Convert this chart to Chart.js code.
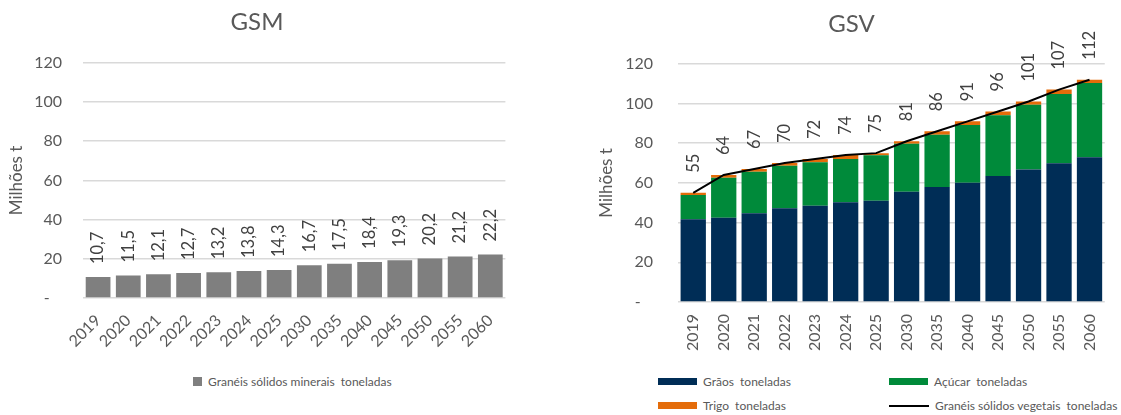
<!DOCTYPE html>
<html lang="pt">
<head>
    <meta charset="UTF-8">
    <title>GSM / GSV</title>
    <script src="https://cdn.jsdelivr.net/npm/chart.js"></script>
    <style>
        body { margin: 0; background: #fff; font-family: Lato, sans-serif; }
        .wrap { position: relative; width: 1121px; height: 415px; }
        #gsmBox { position: absolute; left: 0; top: 0; width: 517px; height: 360px; }
        #gsvBox { position: absolute; left: 590px; top: 0; width: 531px; height: 360px; }
        .legend-item { position: absolute; font-size: 12px; color: #595959; white-space: pre; line-height: 14px; }
        .legend-item i { position: absolute; display: block; }
    </style>
</head>
<body>
<div class="wrap" id="wrap">
    <div id="gsmBox"><canvas id="gsmChart"></canvas></div>
    <div id="gsvBox"><canvas id="gsvChart"></canvas></div>
</div>

<script>
    // categories
    const years = ['2019', '2020', '2021', '2022', '2023', '2024', '2025', '2030', '2035', '2040', '2045', '2050', '2055', '2060'];
    const yTicks = [0, 20, 40, 60, 80, 100, 120];

    // GSM - graneis solidos minerais (milhoes t)
    const minerais = [10.7, 11.5, 12.1, 12.7, 13.2, 13.8, 14.3, 16.7, 17.5, 18.4, 19.3, 20.2, 21.2, 22.2];

    // GSV - graneis solidos vegetais (milhoes t)
    const graos  = [41.7, 42.5, 44.7, 47.2, 48.5, 50.2, 51.0, 55.6, 57.9, 60.1, 63.5, 66.7, 69.9, 72.9];
    const acucar = [12.2, 20.1, 20.9, 21.5, 21.9, 21.8, 22.9, 24.1, 26.4, 29.1, 30.6, 32.7, 34.9, 37.4];
    const trigo  = [1.1, 1.4, 1.4, 1.3, 1.6, 2.0, 1.1, 1.3, 1.7, 1.8, 1.9, 1.6, 2.2, 1.7];
    const vegetais = [55, 64, 67, 70, 72, 74, 75, 81, 86, 91, 96, 101, 107, 112];

    const FONT = 'Lato';
    const TXT = '#595959';
    const GRID = '#d9d9d9';

    // rotated value labels above bars / line points
    const valueLabels = {
        id: 'valueLabels',
        afterDatasetsDraw(chart, args, opts) {
            const ctx = chart.ctx;
            const meta = chart.getDatasetMeta(opts.dataset);
            const values = chart.data.datasets[opts.dataset].data;
            ctx.save();
            ctx.font = opts.size + 'px ' + FONT;
            ctx.fillStyle = '#404040';
            ctx.textAlign = 'left';
            ctx.textBaseline = 'middle';
            meta.data.forEach((el, i) => {
                ctx.save();
                ctx.translate(el.x, el.y - opts.gap);
                ctx.rotate(-Math.PI / 2);
                ctx.fillText(opts.format(values[i]), 0, 0);
                ctx.restore();
            });
            ctx.restore();
        }
    };

    function yScale(tickPad, width) {
        return {
            min: 0, max: 120,
            afterBuildTicks: s => { s.ticks = yTicks.map(v => ({ value: v })); },
            afterFit: s => { s.width = width; },
            grid: { color: GRID, lineWidth: 1.5, drawTicks: false },
            border: { display: false },
            ticks: {
                padding: tickPad, color: TXT, font: { family: FONT, size: 16 },
                callback: v => v === 0 ? '-   ' : v
            },
            title: { display: true, text: 'Milhões t', color: TXT, font: { family: FONT, size: 17 }, padding: { top: 6, bottom: 0 } }
        };
    }

    function xScale(rot, pad, height) {
        return {
            offset: true,
            afterFit: s => { s.height = height; },
            grid: { display: false, drawTicks: false },
            border: { display: false },
            ticks: { autoSkip: false, minRotation: rot, maxRotation: rot, padding: pad, color: TXT, font: { family: FONT, size: 16 } }
        };
    }

    // GSM chart
    new Chart(document.getElementById('gsmChart'), {
        type: 'bar',
        data: {
            labels: years,
            datasets: [{
                label: 'Granéis sólidos minerais  toneladas',
                data: minerais,
                backgroundColor: '#7f7f7f',
                barPercentage: 0.82,
                categoryPercentage: 1
            }]
        },
        options: {
            responsive: true,
            maintainAspectRatio: false,
            animation: false,
            layout: { padding: { left: 0, right: 3, top: 0, bottom: 0 } },
            scales: { x: xScale(45, 13, 62), y: yScale(21, 83) },
            plugins: {
                legend: { display: false },
                tooltip: { enabled: false },
                title: { display: true, text: 'GSM', color: TXT, font: { family: FONT, size: 24, weight: 'normal' }, padding: { top: 8, bottom: 26 } },
                valueLabels: { dataset: 0, gap: 13, size: 16.5, format: v => v.toFixed(1).replace('.', ',') }
            }
        },
        plugins: [valueLabels]
    });

    // GSV chart
    new Chart(document.getElementById('gsvChart'), {
        type: 'bar',
        data: {
            labels: years,
            datasets: [
                { label: 'Grãos  toneladas', data: graos, backgroundColor: '#002d56', stack: 'veg', order: 1, barPercentage: 0.83, categoryPercentage: 1 },
                { label: 'Açúcar  toneladas', data: acucar, backgroundColor: '#008a3a', stack: 'veg', order: 1, barPercentage: 0.83, categoryPercentage: 1 },
                { label: 'Trigo  toneladas', data: trigo, backgroundColor: '#e46c0a', stack: 'veg', order: 1, barPercentage: 0.83, categoryPercentage: 1 },
                { type: 'line', label: 'Granéis sólidos vegetais  toneladas', data: vegetais, borderColor: '#000', borderWidth: 2, pointRadius: 0, tension: 0, stack: 'total', order: 0 }
            ]
        },
        options: {
            responsive: true,
            maintainAspectRatio: false,
            animation: false,
            layout: { padding: { left: 0, right: 8, top: 0, bottom: 0 } },
            scales: {
                x: Object.assign(xScale(90, 12, 58), { stacked: true }),
                y: Object.assign(yScale(25, 88), { stacked: true })
            },
            plugins: {
                legend: { display: false },
                tooltip: { enabled: false },
                title: { display: true, text: 'GSV', color: TXT, font: { family: FONT, size: 24, weight: 'normal' }, padding: { top: 10, bottom: 25 } },
                valueLabels: { dataset: 3, gap: 20, size: 16.5, format: v => String(v) }
            }
        },
        plugins: [valueLabels]
    });

    // legends (same labels/colours as the datasets)
    const legendItems = [
        { text: 'Granéis sólidos minerais  toneladas', color: '#7f7f7f', x: 193, y: 375, box: [9, 9, 2] },
        { text: 'Grãos  toneladas', color: '#002d56', x: 658, y: 375, box: [39, 7, 3] },
        { text: 'Açúcar  toneladas', color: '#008a3a', x: 889, y: 375, box: [39, 7, 3] },
        { text: 'Trigo  toneladas', color: '#e46c0a', x: 658, y: 399, box: [39, 7, 3] },
        { text: 'Granéis sólidos vegetais  toneladas', color: '#000', x: 889, y: 399, box: [40, 2, 6] }
    ];
    const wrap = document.getElementById('wrap');
    legendItems.forEach(it => {
        const d = document.createElement('div');
        d.className = 'legend-item';
        d.style.left = it.x + 'px';
        d.style.top = it.y + 'px';
        d.style.paddingLeft = (it.box[0] + 6) + 'px';
        d.textContent = it.text;
        const b = document.createElement('i');
        b.style.left = '0px';
        b.style.top = it.box[2] + 'px';
        b.style.width = it.box[0] + 'px';
        b.style.height = it.box[1] + 'px';
        b.style.background = it.color;
        d.appendChild(b);
        wrap.appendChild(d);
    });
</script>
</body>
</html>
